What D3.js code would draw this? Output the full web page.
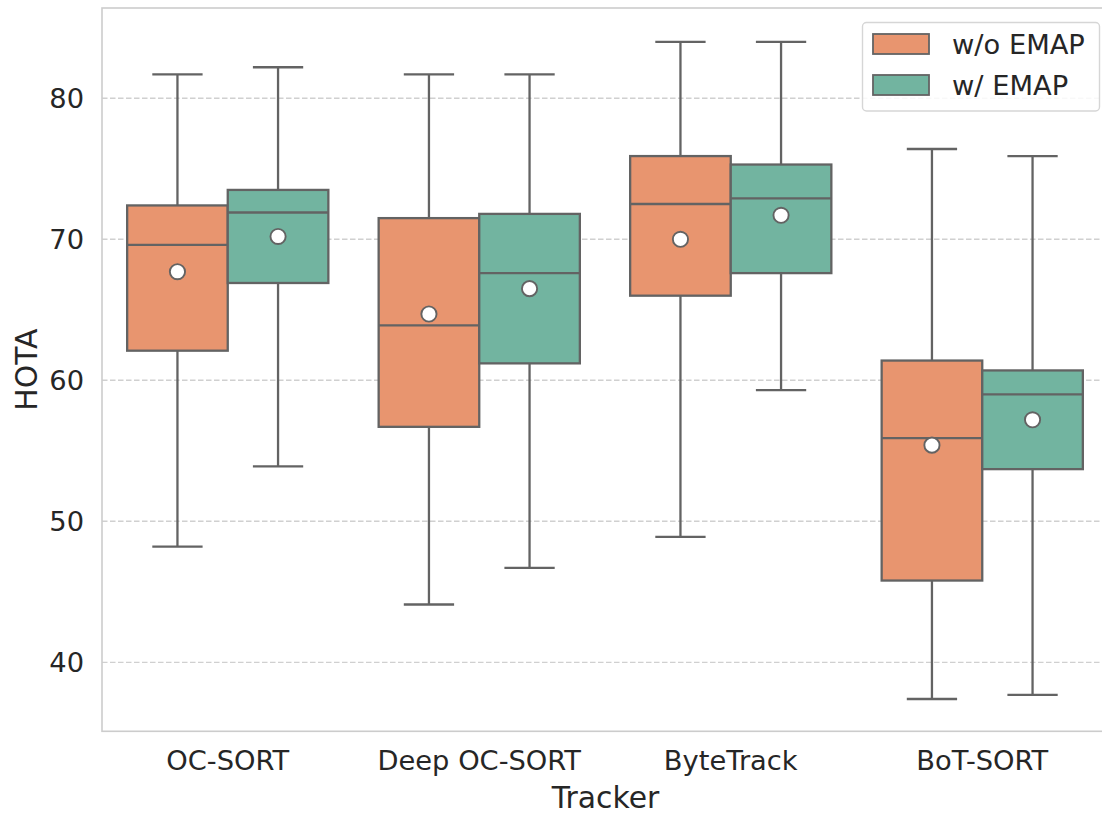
<!DOCTYPE html>
<html>
<head>
<meta charset="utf-8">
<script src="https://cdn.jsdelivr.net/npm/d3@7"></script>
<style>
  html, body { margin: 0; padding: 0; background: #fff; }
  svg { display: block; font-family: "DejaVu Sans", sans-serif; }
</style>
</head>
<body>
<svg id="chart" width="1102" height="814"></svg>
<script>
// ---- Data ----
const trackers = ["OC-SORT", "Deep OC-SORT", "ByteTrack", "BoT-SORT"];
const seriesNames = ["w/o EMAP", "w/ EMAP"];
const seriesColors = ["#e8956f", "#72b4a0"];
const yTicks = [40, 50, 60, 70, 80];

// w/o EMAP
const woLow    = [48.2, 44.1, 48.9, 37.4];
const woQ1     = [62.1, 56.7, 66.0, 45.8];
const woMedian = [69.6, 63.9, 72.5, 55.9];
const woQ3     = [72.4, 71.5, 75.9, 61.4];
const woHigh   = [81.7, 81.7, 84.0, 76.4];
const woMean   = [67.7, 64.7, 70.0, 55.4];

// w/ EMAP
const wLow    = [53.9, 46.7, 59.3, 37.7];
const wQ1     = [66.9, 61.2, 67.6, 53.7];
const wMedian = [71.9, 67.6, 72.9, 59.0];
const wQ3     = [73.5, 71.8, 75.3, 60.7];
const wHigh   = [82.2, 81.7, 84.0, 75.9];
const wMean   = [70.2, 66.5, 71.7, 57.2];

const stats = [
  trackers.map((t, i) => ({tracker: t, low: woLow[i], q1: woQ1[i], med: woMedian[i], q3: woQ3[i], high: woHigh[i], mean: woMean[i]})),
  trackers.map((t, i) => ({tracker: t, low: wLow[i], q1: wQ1[i], med: wMedian[i], q3: wQ3[i], high: wHigh[i], mean: wMean[i]}))
];

// ---- Layout ----
const svg = d3.select("#chart");
const pLeft = 102, pTop = 8, plotW = 1006, pBottom = 731.3;
const lineColor = "#636363";
const lw = 2.3;
const tickFont = 27.3, labelFont = 29.8;

const x = d3.scaleBand().domain(trackers).range([pLeft, pLeft + plotW]).paddingInner(0).paddingOuter(0);
const y = d3.scaleLinear().domain([35.11, 86.40]).range([pBottom, pTop]);
const boxW = x.bandwidth() * 0.8 / 2;
const xOff = d3.scaleBand().domain(seriesNames).range([0, boxW * 2]);

// grid
const gGrid = svg.append("g");
gGrid.selectAll("line").data(yTicks).join("line")
  .attr("x1", pLeft).attr("x2", pLeft + plotW)
  .attr("y1", d => y(d)).attr("y2", d => y(d))
  .attr("stroke", "#d0d0d0").attr("stroke-width", 1.4)
  .attr("stroke-dasharray", "5.5,2.5");

// spines
svg.append("rect").attr("x", pLeft).attr("y", pTop)
  .attr("width", plotW).attr("height", pBottom - pTop)
  .attr("fill", "none").attr("stroke", "#cccccc").attr("stroke-width", 1.6);

// y axis ticks (labels only)
const yAxis = d3.axisLeft(y).tickValues(yTicks).tickSize(0).tickPadding(18);
const gy = svg.append("g").attr("transform", `translate(${pLeft},0)`).call(yAxis);
gy.select(".domain").remove();
gy.selectAll("text").attr("font-size", tickFont).attr("fill", "#262626")
  .attr("font-family", "DejaVu Sans, sans-serif");

// x axis labels
const xAxis = d3.axisBottom(x).tickSize(0).tickPadding(19);
const gx = svg.append("g").attr("transform", `translate(0,${pBottom})`).call(xAxis);
gx.select(".domain").remove();
gx.selectAll("text").attr("font-size", tickFont).attr("fill", "#262626")
  .attr("font-family", "DejaVu Sans, sans-serif");

// axis titles
svg.append("text").attr("x", 605.5).attr("y", 808)
  .attr("text-anchor", "middle").attr("font-size", labelFont).attr("fill", "#262626")
  .text("Tracker");
svg.append("text").attr("transform", `translate(37,${(pTop + pBottom) / 2}) rotate(-90)`)
  .attr("text-anchor", "middle").attr("font-size", labelFont).attr("fill", "#262626")
  .text("HOTA");

// boxes
stats.forEach((data, si) => {
  const g = svg.append("g");
  const x0 = d => x(d.tracker) + x.bandwidth() * 0.1 + xOff(seriesNames[si]);
  const cx = d => x0(d) + boxW / 2;
  // whiskers
  g.selectAll(".wl").data(data).join("line").attr("class", "wl")
    .attr("x1", cx).attr("x2", cx).attr("y1", d => y(d.low)).attr("y2", d => y(d.q1))
    .attr("stroke", lineColor).attr("stroke-width", lw);
  g.selectAll(".wh").data(data).join("line").attr("class", "wh")
    .attr("x1", cx).attr("x2", cx).attr("y1", d => y(d.high)).attr("y2", d => y(d.q3))
    .attr("stroke", lineColor).attr("stroke-width", lw);
  // caps
  g.selectAll(".capl").data(data).join("line").attr("class", "capl")
    .attr("x1", d => cx(d) - boxW / 4).attr("x2", d => cx(d) + boxW / 4)
    .attr("y1", d => y(d.low)).attr("y2", d => y(d.low))
    .attr("stroke", lineColor).attr("stroke-width", lw);
  g.selectAll(".caph").data(data).join("line").attr("class", "caph")
    .attr("x1", d => cx(d) - boxW / 4).attr("x2", d => cx(d) + boxW / 4)
    .attr("y1", d => y(d.high)).attr("y2", d => y(d.high))
    .attr("stroke", lineColor).attr("stroke-width", lw);
  // box
  g.selectAll(".box").data(data).join("rect").attr("class", "box")
    .attr("x", x0).attr("width", boxW)
    .attr("y", d => y(d.q3)).attr("height", d => y(d.q1) - y(d.q3))
    .attr("fill", seriesColors[si]).attr("stroke", lineColor).attr("stroke-width", lw);
  // median
  g.selectAll(".med").data(data).join("line").attr("class", "med")
    .attr("x1", x0).attr("x2", d => x0(d) + boxW)
    .attr("y1", d => y(d.med)).attr("y2", d => y(d.med))
    .attr("stroke", lineColor).attr("stroke-width", lw);
});
// means on top
stats.forEach((data, si) => {
  const cx = d => x(d.tracker) + x.bandwidth() * 0.1 + xOff(seriesNames[si]) + boxW / 2;
  svg.append("g").selectAll("circle").data(data).join("circle")
    .attr("cx", cx).attr("cy", d => y(d.mean)).attr("r", 7.6)
    .attr("fill", "#ffffff").attr("stroke", lineColor).attr("stroke-width", 1.9);
});

// legend
const lg = svg.append("g");
lg.append("rect").attr("x", 862.5).attr("y", 22.5).attr("width", 237).attr("height", 88.5)
  .attr("rx", 4).attr("fill", "#ffffff").attr("fill-opacity", 0.85)
  .attr("stroke", "#d6d6d6").attr("stroke-width", 1.4);
seriesNames.forEach((name, i) => {
  const yy = 34 + i * 41;
  lg.append("rect").attr("x", 873).attr("y", yy).attr("width", 56).attr("height", 20)
    .attr("fill", seriesColors[i]).attr("stroke", lineColor).attr("stroke-width", 1.8);
  lg.append("text").attr("x", 952).attr("y", yy + 20).attr("font-size", tickFont)
    .attr("fill", "#262626").text(name);
});
</script>
</body>
</html>
